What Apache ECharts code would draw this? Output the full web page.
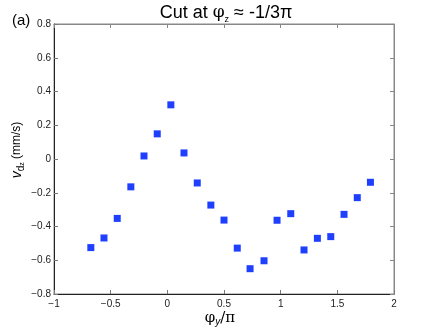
<!DOCTYPE html>
<html>
<head>
<meta charset="utf-8">
<script src="https://cdn.jsdelivr.net/npm/echarts@6/dist/echarts.min.js"></script>
<style>
  html, body { margin: 0; padding: 0; background: #fff; }
  #chart { width: 436px; height: 331px; }
</style>
</head>
<body>
<div id="chart"></div>
<script>
  // phi_y / pi positions and measured v_dz (mm/s)
  var phiY = [-0.675, -0.559, -0.442, -0.322, -0.206, -0.089, 0.031, 0.147, 0.264, 0.384, 0.5, 0.617,
              0.73, 0.853, 0.968, 1.089, 1.206, 1.324, 1.442, 1.559, 1.676, 1.792];
  var vdz = [-0.525, -0.468, -0.352, -0.165, 0.018, 0.149, 0.321, 0.036, -0.142, -0.273, -0.362, -0.528,
             -0.650, -0.603, -0.363, -0.324, -0.539, -0.470, -0.460, -0.328, -0.229, -0.138];
  var xTicks = [-1, -0.5, 0, 0.5, 1, 1.5, 2];
  var yTicks = [-0.8, -0.6, -0.4, -0.2, 0, 0.2, 0.4, 0.6, 0.8];

  var points = phiY.map(function (x, i) { return [x, vdz[i]]; });
  var fontFam = 'Liberation Sans, Arial, sans-serif';

  function fmt(v) {
    return String(v).replace('-', '\u2212');
  }

  var chart = echarts.init(document.getElementById('chart'));
  var option = {
    animation: false,
    backgroundColor: '#fff',
    title: {
      text: 'Cut at {phi|φ}{sub|z} ≈ -1/3π',
      left: 221,
      textAlign: 'center',
      top: -3,
      textStyle: {
        fontFamily: fontFam,
        fontSize: 18,
        fontWeight: 'normal',
        color: '#000',
        rich: {
          phi: { fontFamily: 'DejaVu Serif', fontSize: 17, color: '#000', lineHeight: 22 },
          sub: { fontSize: 9, color: '#000', verticalAlign: 'bottom', lineHeight: 9 }
        }
      }
    },
    graphic: [{
      type: 'text',
      left: 12,
      top: 13,
      style: { text: '(a)', fontFamily: fontFam, fontSize: 15, fill: '#000' }
    }, {
      // y axis title
      type: 'text',
      x: 17, y: 150,
      rotation: Math.PI / 2,
      style: {
        text: '{v|v}{d|d}{z|z}{u| (mm/s)}',
        align: 'center',
        verticalAlign: 'middle',
        rich: {
          v: { fontFamily: fontFam, fontStyle: 'italic', fontSize: 14, fill: '#000', lineHeight: 18 },
          d: { fontFamily: fontFam, fontSize: 10, fill: '#000', verticalAlign: 'bottom', lineHeight: 13 },
          z: { fontFamily: fontFam, fontSize: 7, fill: '#000', verticalAlign: 'bottom', lineHeight: 7 },
          u: { fontFamily: fontFam, fontSize: 12, fill: '#000', lineHeight: 18 }
        }
      }
    }, {
      // x axis title
      type: 'text',
      x: 220, y: 318,
      style: {
        text: '{phi|φ}{sub|y}{t|/π}',
        align: 'center',
        verticalAlign: 'middle',
        rich: {
          phi: { fontFamily: 'DejaVu Serif', fontSize: 15, fill: '#000', lineHeight: 18 },
          sub: { fontFamily: fontFam, fontStyle: 'italic', fontSize: 10, fill: '#000', verticalAlign: 'bottom', lineHeight: 10 },
          t: { fontFamily: 'DejaVu Serif', fontSize: 15, fill: '#000', lineHeight: 18 }
        }
      }
    }],
    grid: {
      left: 54, right: 42, top: 24, bottom: 37,
      show: true, borderColor: '#888', borderWidth: 1
    },
    xAxis: [{
      type: 'value',
      min: -1, max: 2, interval: 0.5,
      axisLine: { onZero: false, lineStyle: { color: '#222' } },
      axisTick: { inside: true, length: 4, lineStyle: { color: '#777' } },
      axisLabel: {
        margin: 5, fontFamily: fontFam, fontSize: 10, color: '#222',
        formatter: function (v) { return fmt(v); }
      },
      splitLine: { show: false }
    }, {
      type: 'value', position: 'top',
      min: -1, max: 2, interval: 0.5,
      axisLine: { onZero: false, lineStyle: { color: '#888' } },
      axisTick: { inside: true, length: 4, lineStyle: { color: '#888' } },
      axisLabel: { show: false },
      splitLine: { show: false }
    }],
    yAxis: [{
      type: 'value',
      min: -0.8, max: 0.8, interval: 0.2,
      axisLine: { onZero: false, lineStyle: { color: '#222' } },
      axisTick: { inside: true, length: 4, lineStyle: { color: '#777' } },
      axisLabel: {
        margin: 3, fontFamily: fontFam, fontSize: 10, color: '#222',
        formatter: function (v) { return fmt(Math.round(v * 10) / 10); }
      },
      splitLine: { show: false }
    }, {
      type: 'value', position: 'right',
      min: -0.8, max: 0.8, interval: 0.2,
      axisLine: { onZero: false, lineStyle: { color: '#888' } },
      axisTick: { inside: true, length: 4, lineStyle: { color: '#888' } },
      axisLabel: { show: false },
      splitLine: { show: false }
    }],
    series: [{
      type: 'scatter',
      data: points,
      symbol: 'rect',
      symbolSize: 7,
      itemStyle: { color: '#1f3fff', opacity: 1 }
    }]
  };
  chart.setOption(option);
</script>
</body>
</html>
